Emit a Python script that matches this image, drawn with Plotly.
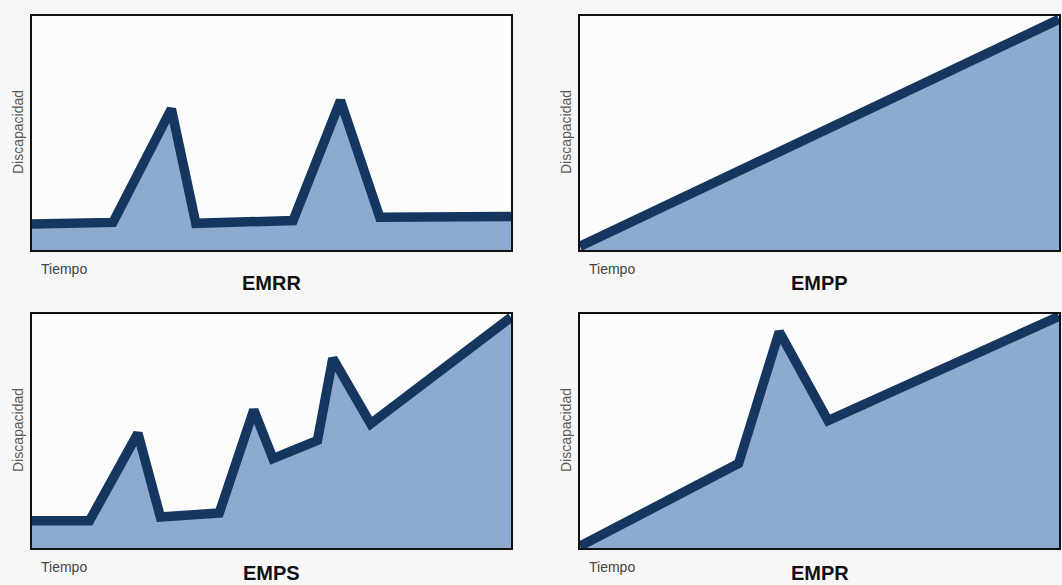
import plotly.graph_objects as go

# Data (time in % of panel, disability in % of panel)
emrr_t = [0.0, 16.9, 29.1, 34.2, 54.5, 64.4, 72.6, 100.0]
emrr_d = [11.1, 11.8, 60.3, 11.4, 12.6, 63.9, 14.0, 14.3]

empp_t = [0.0, 100.0]
empp_d = [1.6, 98.6]

emps_t = [0.0, 12.0, 22.1, 26.8, 39.1, 46.3, 50.3, 59.6, 62.8, 70.7, 100.0]
emps_d = [11.6, 11.6, 49.0, 13.3, 15.0, 59.0, 38.2, 46.0, 81.0, 53.1, 98.6]

empr_t = [0.0, 33.1, 41.6, 51.8, 100.0]
empr_d = [0.8, 36.1, 92.4, 54.4, 99.0]

titles = ["EMRR", "EMPP", "EMPS", "EMPR"]
series = [(emrr_t, emrr_d), (empp_t, empp_d), (emps_t, emps_d), (empr_t, empr_d)]

W, H = 1062, 585
# panel boxes in pixels: (left, right, top, bottom)
boxes = [(32, 511, 16, 250), (580, 1059, 16, 250), (32, 511, 314, 548), (580, 1059, 314, 548)]
title_gap = [33, 33, 25, 25]

LINE = "#15375f"
FILL = "rgb(143,170,207)"

fig = go.Figure()
annotations = []
for i, ((t, d), (l, r, tp, bt), title) in enumerate(zip(series, boxes, titles)):
    n = "" if i == 0 else str(i + 1)
    fig.add_trace(go.Scatter(
        x=t, y=d, mode="lines", fill="tozeroy", fillcolor=FILL,
        line=dict(color=LINE, width=9.5), xaxis="x" + n, yaxis="y" + n,
        showlegend=False, hoverinfo="skip"))
    ax = dict(domain=[l / W, r / W], range=[0, 100], showgrid=False, zeroline=False,
              showticklabels=False, ticks="", showline=True, mirror=True,
              linecolor="#111111", linewidth=1.5, fixedrange=True)
    ay = dict(domain=[1 - bt / H, 1 - tp / H], range=[0, 100], showgrid=False, zeroline=False,
              showticklabels=False, ticks="", showline=True, mirror=True,
              linecolor="#111111", linewidth=1.5, fixedrange=True)
    fig.update_layout(**{"xaxis" + n: dict(ax, anchor="y" + n), "yaxis" + n: dict(ay, anchor="x" + n)})
    # Y label
    annotations.append(dict(text="Discapacidad", textangle=-90, x=(l - 14) / W, y=1 - ((tp + bt) / 2 - 1) / H,
                            xref="paper", yref="paper", showarrow=False, xanchor="center", yanchor="middle",
                            font=dict(family="Liberation Sans, Arial", size=14, color="#5a5a5a")))
    # X label
    annotations.append(dict(text="Tiempo", x=(l + 7) / W, y=1 - (bt + 19) / H,
                            xref="paper", yref="paper", showarrow=False, xanchor="left", yanchor="middle",
                            font=dict(family="Liberation Sans, Arial", size=14, color="#444444")))
    # Title
    annotations.append(dict(text="<b>" + title + "</b>", x=(l + r) / 2 / W, y=1 - (bt + title_gap[i]) / H,
                            xref="paper", yref="paper", showarrow=False, xanchor="center", yanchor="middle",
                            borderpad=0,
                            font=dict(family="Liberation Sans, Arial", size=20, color="#111111")))

fig.update_layout(width=W, height=H, margin=dict(l=0, r=0, t=0, b=0),
                  paper_bgcolor="#f7f7f7", plot_bgcolor="#fcfcfc",
                  annotations=annotations, showlegend=False)

fig.write_html("out.html", config={"displayModeBar": False},
               post_script="document.body.style.margin='0';document.body.style.overflow='hidden';")
